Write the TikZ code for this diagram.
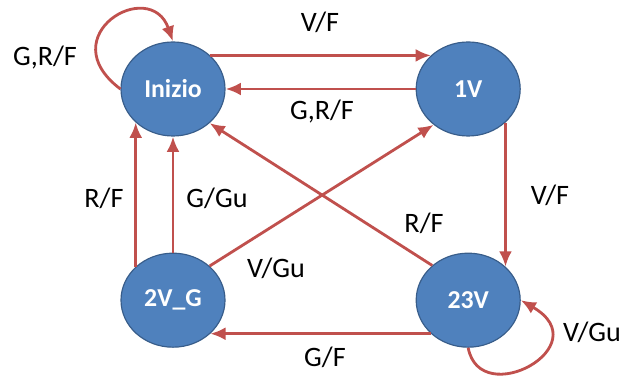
\documentclass[tikz,border=0pt]{standalone}
\usepackage{fontspec}
\setmainfont{Carlito}
\usetikzlibrary{positioning,shapes,arrows.meta}
\definecolor{statoblu}{RGB}{79,129,189}
\definecolor{bordoblu}{RGB}{56,93,138}
\definecolor{frecciarossa}{RGB}{192,80,77}

\begin{document}
\begin{tikzpicture}[
		x=0.03cm,y=0.03cm,
		node distance=3.48cm and 5.7cm,
		stato/.style={draw=bordoblu,line width=1pt,fill=statoblu,ellipse,minimum width=3.12cm,minimum height=2.82cm,text=white,font=\fontsize{22}{26}\selectfont\bfseries},
		freccia/.style={draw=frecciarossa,line width=2.4pt,-{Latex[length=13pt,width=11pt]}},
		etichetta/.style={font=\fontsize{24}{28}\selectfont}
		]
		\useasboundingbox (0,0) rectangle (624,376);
		\node[stato] at (173,287) (inizio) {Inizio};
		\node[stato,right=of inizio] (unov) {1V};
		\node[stato,below=of inizio] (duevg) {2V\_G};
		\node[stato,below=of unov] (ventitrev) {23V};
		\path 
		(inizio.42) edge[freccia] (unov.138)
		(unov.west) edge[freccia] (inizio.east)
		(duevg.138) edge[freccia] (inizio.222)
		(duevg.north) edge[freccia] (inizio.south)
		(duevg.43) edge[freccia] (unov.226)
		(ventitrev.136) edge[freccia] (inizio.317)
		(unov.318) edge[freccia] (ventitrev.42)
		(ventitrev.222) edge[freccia] (duevg.318);
		% anelli
		\draw[freccia] (inizio.west) .. controls (50,340) and (150,400) .. (inizio.north);
		\draw[freccia] (ventitrev.south) .. controls (480,-35) and (600,30) .. (ventitrev.east);
		% etichette
		\node[etichetta] at (320,354) (vf1) {V/F};
		\node[etichetta] at (322,264) (grf1) {G,R/F};
		\node[etichetta] at (45,318) (grf2) {G,R/F};
		\node[etichetta] at (104,178) (rf1) {R/F};
		\node[etichetta] at (217,178) (ggu) {G/Gu};
		\node[etichetta] at (276,108) (vgu1) {V/Gu};
		\node[etichetta] at (424,153) (rf2) {R/F};
		\node[etichetta] at (550,181) (vf2) {V/F};
		\node[etichetta] at (325,19) (gf) {G/F};
		\node[etichetta] at (592,44) (vgu2) {V/Gu};
	\end{tikzpicture}
\end{document}
